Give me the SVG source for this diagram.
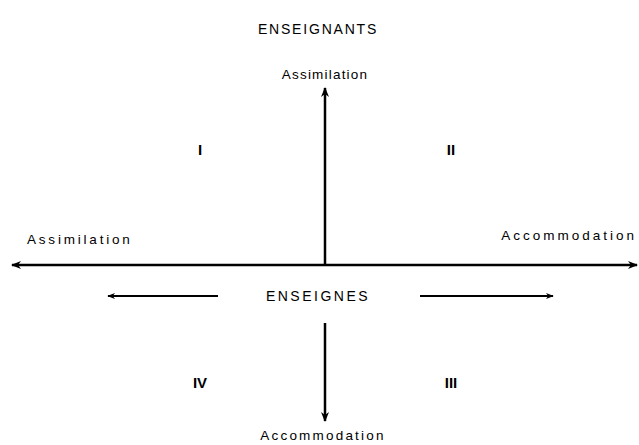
<svg xmlns="http://www.w3.org/2000/svg" width="639" height="445" viewBox="0 0 639 445">
  <defs>
    <marker id="ah" viewBox="0 0 10 10" refX="9" refY="5" markerWidth="4" markerHeight="4" orient="auto" markerUnits="strokeWidth">
      <path d="M0,1 L10,5 L0,9 L3,5 Z" fill="#000"/>
    </marker>
    <style>
      .lbl { font-family: "Liberation Sans", Arial, sans-serif; font-size: 13.5px; letter-spacing: 1.5px; fill: #000; }
      .title { font-family: "Liberation Sans", Arial, sans-serif; font-size: 14px; letter-spacing: 1.8px; fill: #000; }
      .num { font-family: "Liberation Sans", Arial, sans-serif; font-size: 15px; font-weight: bold; fill: #000; }
      .ax { stroke: #000; fill: none; marker-end: url(#ah); }
    </style>
  </defs>
  <rect width="639" height="445" fill="#fff"/>
  <g id="connectors">
    <line class="ax" x1="325" y1="265" x2="12" y2="265" stroke-width="2.5"/>
    <line class="ax" x1="325" y1="265" x2="637" y2="265" stroke-width="2.5"/>
    <line class="ax" x1="325" y1="265" x2="325" y2="88" stroke-width="2.5"/>
    <line class="ax" x1="325" y1="323" x2="325" y2="421" stroke-width="2.5"/>
    <line class="ax" x1="218" y1="296" x2="108" y2="296" stroke-width="2"/>
    <line class="ax" x1="420" y1="296" x2="553" y2="296" stroke-width="2"/>
  </g>
  <g id="enseignants"><text class="title" x="318" y="34" text-anchor="middle">ENSEIGNANTS</text></g>
  <g id="enseignes"><text class="title" x="318" y="301" text-anchor="middle" style="letter-spacing:2.5px">ENSEIGNES</text></g>
  <g id="assimilation-top"><text class="lbl" x="325" y="79" text-anchor="middle" style="letter-spacing:1.2px">Assimilation</text></g>
  <g id="assimilation-left"><text class="lbl" x="27" y="244" style="letter-spacing:2.8px">Assimilation</text></g>
  <g id="accommodation-right"><text class="lbl" x="637" y="240" text-anchor="end" style="letter-spacing:3px">Accommodation</text></g>
  <g id="accommodation-bottom"><text class="lbl" x="323" y="440" text-anchor="middle" style="letter-spacing:2.2px">Accommodation</text></g>
  <g id="q1"><text class="num" x="200" y="155" text-anchor="middle">I</text></g>
  <g id="q2"><text class="num" x="451" y="155" text-anchor="middle">II</text></g>
  <g id="q3"><text class="num" x="451" y="388" text-anchor="middle">III</text></g>
  <g id="q4"><text class="num" x="200" y="388" text-anchor="middle">IV</text></g>
</svg>
